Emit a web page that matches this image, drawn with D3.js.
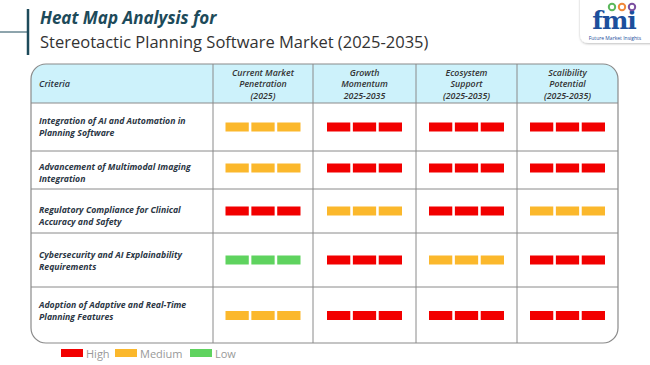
<!DOCTYPE html>
<html><head><meta charset="utf-8">
<script src="https://cdn.jsdelivr.net/npm/d3@7"></script>
<style>body{margin:0;background:#fff;}svg{display:block;}</style>
</head><body>
<svg id="c" width="650" height="365"></svg>
<script>
const criteria = [
  ["Integration of AI and Automation in", "Planning Software"],
  ["Advancement of Multimodal Imaging", "Integration"],
  ["Regulatory Compliance for Clinical", "Accuracy and Safety"],
  ["Cybersecurity and AI Explainability", "Requirements"],
  ["Adoption of Adaptive and Real-Time", "Planning Features"]
];
const columns = [
  ["Current Market", "Penetration", "(2025)"],
  ["Growth", "Momentum", "2025-2035"],
  ["Ecosystem", "Support", "(2025-2035)"],
  ["Scalibility", "Potential", "(2025-2035)"]
];
// levels: rows x columns
const levels = [
  ["Medium", "High", "High", "High"],
  ["Medium", "High", "High", "High"],
  ["High", "Medium", "High", "Medium"],
  ["Low", "High", "Medium", "High"],
  ["Medium", "High", "High", "High"]
];
const legendLevels = ["High", "Medium", "Low"];

(function(){
const svg = d3.select("#c");
const color = d3.scaleOrdinal().domain(["High","Medium","Low"]).range(["#f20000","#fbb82c","#5fd35f"]);

// Title
svg.append("line").attr("x1",28).attr("x2",28).attr("y1",9).attr("y2",55).attr("stroke","#1d4a5a").attr("stroke-width",2.5);
svg.append("line").attr("x1",0).attr("x2",28).attr("y1",32).attr("y2",32).attr("stroke","#1d4a5a").attr("stroke-width",1);
svg.append("text").attr("x",40).attr("y",24).text("Heat Map Analysis for")
  .attr("font-family","Open Sans, sans-serif").attr("font-size",17).attr("font-weight","bold").attr("font-style","italic").attr("fill","#1d4a5a");
svg.append("text").attr("x",40).attr("y",48).text("Stereotactic Planning Software Market (2025-2035)")
  .attr("font-family","Open Sans, sans-serif").attr("font-size",16.5).attr("fill","#333");

// Logo
const defs = svg.append("defs");
const f = defs.append("filter").attr("id","sh").attr("x","-20%").attr("y","-20%").attr("width","140%").attr("height","160%");
f.append("feDropShadow").attr("dx",0).attr("dy",1).attr("stdDeviation",1.2).attr("flood-color","#000").attr("flood-opacity",0.25);
const lg = svg.append("g");
lg.append("path").attr("d","M580,-2 L580,34 Q580,43 589,43 L652,43 L652,-2 Z").attr("fill","#fff").attr("filter","url(#sh)");
lg.append("text").attr("x",614).attr("y",28.5).attr("text-anchor","middle").text("fmi")
  .attr("font-family","DejaVu Serif, serif").attr("font-weight","bold").attr("font-size",25).attr("fill","#1c4f9c").attr("letter-spacing",-1);
[[612,"#5cb85c"],[622,"#f0883a"],[632,"#7b4fa0"]].forEach(([cx,c])=>{
  lg.append("circle").attr("cx",cx).attr("cy",7).attr("r",3.2).attr("fill","none").attr("stroke",c).attr("stroke-width",2);
});
lg.append("text").attr("x",615).attr("y",39.5).attr("text-anchor","middle").text("Future Market Insights")
  .attr("font-family","Open Sans, sans-serif").attr("font-size",5).attr("fill","#1c4f9c");

// Table geometry
const tL = 31, tR = 618, tT = 64, tB = 343;
const colEdges = [tL, 213, 313, 416, 517, tR];
const rowEdges = [103, 151, 189, 233, 287, tB];
const rad = 15;

const clipId = "tclip";
svg.append("clipPath").attr("id",clipId).append("rect").attr("x",tL).attr("y",tT).attr("width",tR-tL).attr("height",tB-tT).attr("rx",rad);
const tg = svg.append("g");
tg.append("rect").attr("x",tL).attr("y",tT).attr("width",tR-tL).attr("height",rowEdges[0]-tT)
  .attr("fill","#cdf2fb").attr("clip-path",`url(#${clipId})`);
const gl = tg.append("g").attr("clip-path",`url(#${clipId})`).attr("stroke","#8a8a8a").attr("stroke-width",1);
colEdges.slice(1,-1).forEach(x=>gl.append("line").attr("x1",x).attr("x2",x).attr("y1",tT).attr("y2",tB));
rowEdges.slice(0,-1).forEach(y=>gl.append("line").attr("x1",tL).attr("x2",tR).attr("y1",y).attr("y2",y));
tg.append("rect").attr("x",tL).attr("y",tT).attr("width",tR-tL).attr("height",tB-tT).attr("rx",rad)
  .attr("fill","none").attr("stroke","#8a8a8a").attr("stroke-width",1.2);

const font = "Open Sans, sans-serif";
tg.append("text").attr("x",39).attr("y",87).text("Criteria").attr("font-family",font).attr("font-size",9)
  .attr("font-style","italic").attr("font-weight",600).attr("fill","#2a3340");
columns.forEach((lines,j)=>{
  const cx = (colEdges[j+1]+colEdges[j+2])/2;
  lines.forEach((t,k)=>{
    tg.append("text").attr("x",cx).attr("y",76+k*11.3).attr("text-anchor","middle").text(t)
      .attr("font-family",font).attr("font-size",8.8).attr("font-style","italic").attr("font-weight",600).attr("fill","#333");
  });
});

const rowCenters = [127, 168, 211, 260, 315.5];
const labelY = [[124,135.5],[170,181.5],[213,224.5],[258,269.5],[308,319.5]];
criteria.forEach((lines,i)=>{
  lines.forEach((t,k)=>{
    tg.append("text").attr("x",39).attr("y",labelY[i][k]).text(t)
      .attr("font-family",font).attr("font-size",8.7).attr("font-style","italic").attr("font-weight","bold").attr("fill","#2b3644");
  });
});

const xb = d3.scaleBand().domain([0,1,2]).paddingInner(0.1);
levels.forEach((row,i)=>{
  row.forEach((lv,j)=>{
    const cx = (colEdges[j+1]+colEdges[j+2])/2;
    xb.range([cx-37.5, cx+37.5]);
    [0,1,2].forEach(b=>{
      tg.append("rect").attr("x",xb(b)).attr("y",rowCenters[i]-4.5).attr("width",xb.bandwidth()).attr("height",9)
        .attr("fill",color(lv));
    });
  });
});

const legX = [61, 115, 190];
legendLevels.forEach((lv,i)=>{
  svg.append("rect").attr("x",legX[i]).attr("y",349).attr("width",22).attr("height",8).attr("fill",color(lv));
  svg.append("text").attr("x",legX[i]+25).attr("y",357.5).text(lv).attr("font-family",font).attr("font-size",11).attr("fill","#999");
});
})();
</script>
</body></html>
